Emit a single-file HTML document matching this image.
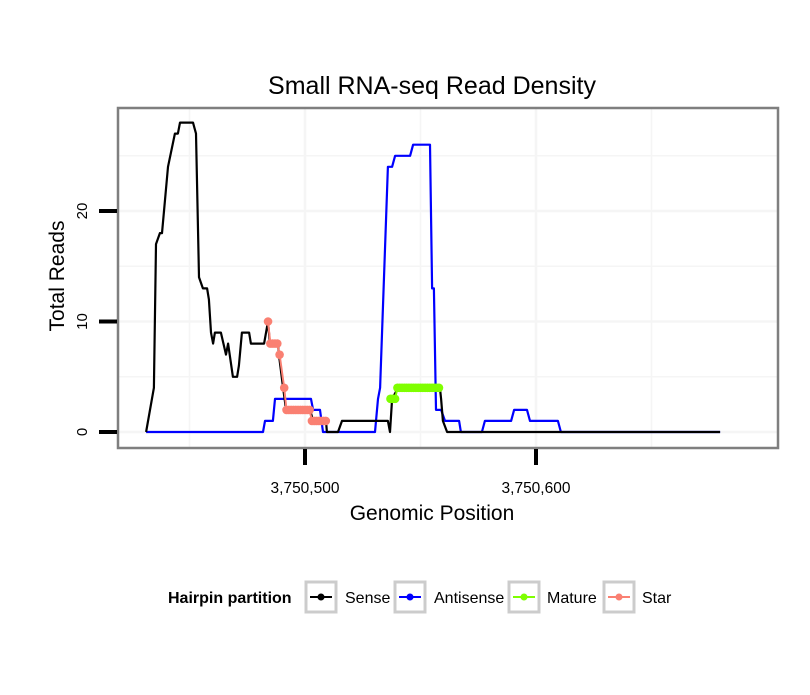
<!DOCTYPE html>
<html><head><meta charset="utf-8"><style>
body{margin:0;background:#fff;}
svg text{font-family:"Liberation Sans",sans-serif;}
</style></head><body>
<svg id="chart" width="810" height="690" xmlns="http://www.w3.org/2000/svg">
<rect width="810" height="690" fill="#fff"/>
<text x="432" y="94" font-size="25" text-anchor="middle">Small RNA-seq Read Density</text>
<g id="grid"></g>
<g id="series"></g>
<rect x="118" y="108" width="660" height="340" fill="none" stroke="#7f7f7f" stroke-width="2.5"/>
<g id="axes"></g>
<text x="432" y="520" font-size="21" text-anchor="middle">Genomic Position</text>
<text transform="translate(64,276) rotate(-90)" font-size="21" text-anchor="middle">Total Reads</text>
<g>
<text x="168" y="603" font-size="16" font-weight="bold">Hairpin partition</text>
<g>
<rect x="306" y="582" width="30" height="30" fill="#fff" stroke="#cccccc" stroke-width="3"/>
<line x1="310" y1="597" x2="332" y2="597" stroke="#000" stroke-width="2"/><circle cx="321" cy="597" r="3.5" fill="#000"/>
<text x="345" y="603" font-size="16">Sense</text></g>
<g>
<rect x="395" y="582" width="30" height="30" fill="#fff" stroke="#cccccc" stroke-width="3"/>
<line x1="399" y1="597" x2="421" y2="597" stroke="#0000ff" stroke-width="2"/><circle cx="410" cy="597" r="3.5" fill="#0000ff"/>
<text x="434" y="603" font-size="16">Antisense</text></g>
<g>
<rect x="509" y="582" width="30" height="30" fill="#fff" stroke="#cccccc" stroke-width="3"/>
<line x1="513" y1="597" x2="535" y2="597" stroke="#7fff00" stroke-width="2"/><circle cx="524" cy="597" r="3.5" fill="#7fff00"/>
<text x="547" y="603" font-size="16">Mature</text></g>
<g>
<rect x="604" y="582" width="30" height="30" fill="#fff" stroke="#cccccc" stroke-width="3"/>
<line x1="608" y1="597" x2="630" y2="597" stroke="#fa8072" stroke-width="2"/><circle cx="619" cy="597" r="3.5" fill="#fa8072"/>
<text x="642" y="603" font-size="16">Star</text></g>
</g>
</svg>
<script>
const senseOffsets=[431.2,434.6,435.5,437.2,438.1,440.7,443.7,445.0,445.9,451.5,452.8,454.1,455.8,457.6,458.4,459.3,460.2,461.0,463.6,465.8,466.7,468.8,470.6,471.4,472.7,475.8,476.6,482.3,484.0,484.8,488.3,488.7,490.5,491.8,502.2,503.5,509.1,509.5,514.3,516.0,535.9,536.8,537.7,540.3,558.4,558.9,559.7,561.5,679.7];
const senseValues=[0,4,17,18,18,24,27,27,28,28,27,14,13,13,12,9,8,9,9,7,8,5,5,6,9,9,8,8,10,8,8,7,4,2,2,1,1,0,0,1,1,0,3,4,4,3,1,0,0];
const antiOffsets=[431.2,481.8,482.7,486.1,487.0,502.6,503.5,506.5,507.8,530.3,531.6,532.5,535.9,537.7,539.0,545.5,546.8,554.1,555.0,555.8,556.7,558.9,560.6,566.7,567.5,576.6,577.9,589.2,590.5,596.1,597.4,609.5,610.8,679.7];
const antiValues=[0,0,1,1,3,3,2,2,0,0,3,4,24,24,25,25,26,26,13,13,2,2,1,1,0,0,1,1,2,2,1,1,0,0];
const starOffsets=[484,485,486,487,488,489,491,492,493,494,495,496,497,498,499,500,501,502,503,504,505,506,507,508,509];
const starValues=[10,8,8,8,8,7,4,2,2,2,2,2,2,2,2,2,2,2,1,1,1,1,1,1,1];
const matureOffsets=[537,538,539,540,541,542,543,544,545,546,547,548,549,550,551,552,553,554,555,556,557,558];
const matureValues=[3,3,3,4,4,4,4,4,4,4,4,4,4,4,4,4,4,4,4,4,4,4];
const xTicks=[3750500,3750600];
const xTickLabels=["3,750,500","3,750,600"];
const yTicks=[0,10,20];
const yTickLabels=["0","10","20"];
const BASE=3750000;
const NS="http://www.w3.org/2000/svg";
function xs(p){return 305+(p-3750500)*2.31;}
function ys(v){return 432-v*11.05;}
function mk(t,a,parent){const e=document.createElementNS(NS,t);for(const k in a)e.setAttribute(k,a[k]);parent.appendChild(e);return e;}
const grid=document.getElementById('grid'),series=document.getElementById('series'),axes=document.getElementById('axes');
for(let v=0;v<=30;v+=5){if(ys(v)<110)continue;
const g=mk('line',{x1:119,x2:777,y1:ys(v),y2:ys(v),stroke:'#f5f5f5','stroke-width':v%10===0?2.5:1.5},grid);

}
for(let p=3750450;p<=3750650;p+=50){
const g=mk('line',{x1:xs(p),x2:xs(p),y1:109,y2:447,stroke:'#f5f5f5','stroke-width':p%100===0?2.5:1.5},grid);

}
function path(offs,vals,color,w,name){
const d=offs.map((o,i)=>(i?'L':'M')+xs(BASE+o).toFixed(1)+','+ys(vals[i]).toFixed(1)).join(' ');
const el=mk('path',{d:d,fill:'none',stroke:color,'stroke-width':w,'stroke-linejoin':'round'},series);

}
path(antiOffsets,antiValues,'#0000ff',2.2,'antisense-line');
path(senseOffsets,senseValues,'#000',2.2,'sense-line');
function pts(offs,vals,color,name){
path(offs,vals,color,2,name+'-line');
offs.forEach((o,i)=>{const c=mk('circle',{cx:xs(BASE+o),cy:ys(vals[i]),r:4.3,fill:color},series);

});}
pts(starOffsets,starValues,'#fa8072','star');
pts(matureOffsets,matureValues,'#7fff00','mature');
yTicks.forEach((v,i)=>{
const t=mk('line',{x1:99,x2:117,y1:ys(v),y2:ys(v),stroke:'#000','stroke-width':4},axes);


const l=mk('text',{transform:'translate(87,'+ys(v)+') rotate(-90)','font-size':15,'text-anchor':'middle'},axes);
l.textContent=yTickLabels[i];

});
xTicks.forEach((p,i)=>{
const t=mk('line',{x1:xs(p),x2:xs(p),y1:449,y2:465,stroke:'#000','stroke-width':4},axes);


const l=mk('text',{x:xs(p),y:493,'font-size':15.5,'text-anchor':'middle'},axes);
l.textContent=xTickLabels[i];

});
</script>
</body></html>
